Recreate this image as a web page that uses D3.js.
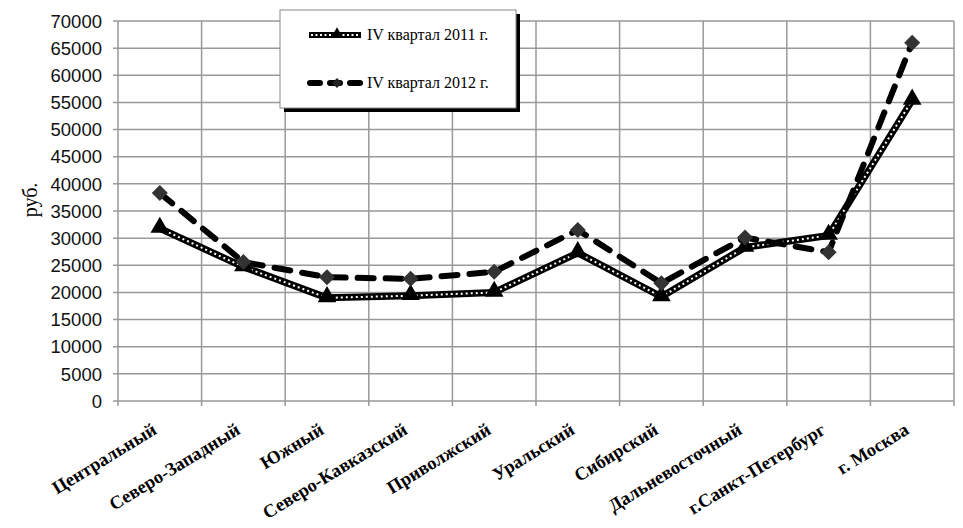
<!DOCTYPE html>
<html><head><meta charset="utf-8">
<script src="https://cdn.jsdelivr.net/npm/d3@7"></script>
<style>body{margin:0;background:#fff}svg{display:block}</style>
</head><body>
<svg id="c" width="963" height="528"></svg>
<script>
const categories = ["Центральный","Северо-Западный","Южный","Северо-Кавказский","Приволжский","Уральский","Сибирский","Дальневосточный","г.Санкт-Петербург","г. Москва"];
const series2011 = [31800,24700,19000,19400,20000,27300,19200,28300,30500,55400];
const series2012 = [38300,25600,22800,22500,23800,31500,21700,30100,27400,66000];
const seriesNames = ["IV квартал 2011 г.","IV квартал 2012 г."];
const yTicks = d3.range(0,70001,5000);
const yLabel = "руб.";

const SERIF = "'Liberation Serif'";
const SANS = "'Liberation Sans'";
const svg = d3.select("#c");
const L=118,R=954,T=21,B=401;
const x = d3.scaleBand().domain(categories).range([L,R]);
const y = d3.scaleLinear().domain([0,70000]).range([B,T]);
const cx = d => x(d)+x.bandwidth()/2;

// grid
const g = svg.append("g");
g.selectAll(".hg").data(yTicks).join("line")
 .attr("x1",L-5).attr("x2",R).attr("y1",d=>y(d)).attr("y2",d=>y(d))
 .attr("stroke","#999").attr("stroke-width",1.5);
const vb = categories.map(c=>x(c)).concat([R]);
g.selectAll(".vg").data(vb).join("line")
 .attr("x1",d=>d).attr("x2",d=>d).attr("y1",T).attr("y2",B+5)
 .attr("stroke","#999").attr("stroke-width",1.5);

// y labels
g.selectAll(".yl").data(yTicks).join("text")
 .attr("x",102).attr("y",d=>y(d)).attr("dy","0.36em")
 .attr("text-anchor","end").attr("font-family",SANS).attr("font-size",18.5)
 .attr("fill","#111").text(d=>d);
svg.append("text").attr("transform","translate(37,200) rotate(-90)")
 .attr("text-anchor","middle").attr("font-family",SERIF).attr("font-size",20)
 .text(yLabel);

// x labels
g.selectAll(".xl").data(categories).join("text")
 .attr("transform",d=>`translate(${cx(d)-2},${B+32}) rotate(-31.5)`)
 .attr("text-anchor","end").attr("font-family",SERIF).attr("font-weight","bold")
 .attr("font-size",18.5).attr("fill","#000").text(d=>d);

const line = d3.line().x((d,i)=>cx(categories[i])).y(d=>y(d));
const tri = d3.symbol().type(d3.symbolTriangle).size(150);
const dia = d3.symbol().type(d3.symbolSquare).size(128);

svg.append("path").attr("d",line(series2011)).attr("fill","none").attr("stroke","#000").attr("stroke-width",7).attr("stroke-linejoin","round");
svg.append("path").attr("d",line(series2011)).attr("fill","none").attr("stroke","#fff").attr("stroke-width",2).attr("stroke-dasharray","2,3");
svg.append("g").selectAll("path").data(series2011).join("path")
 .attr("d",tri).attr("transform",(d,i)=>`translate(${cx(categories[i])},${y(d)-1})`).attr("fill","#000");

svg.append("path").attr("d",line(series2012)).attr("fill","none").attr("stroke","#000").attr("stroke-width",6)
 .attr("stroke-dasharray","16,12").attr("stroke-linecap","round");
svg.append("g").selectAll("path").data(series2012).join("path")
 .attr("d",dia).attr("transform",(d,i)=>`translate(${cx(categories[i])},${y(d)}) rotate(45)`).attr("fill","#333");

// legend
const lg = svg.append("g");
lg.append("rect").attr("x",284).attr("y",14).attr("width",236).attr("height",98).attr("fill","#000");
lg.append("rect").attr("x",280).attr("y",10).attr("width",236).attr("height",98).attr("fill","#fff").attr("stroke","#888").attr("stroke-width",1);
lg.append("line").attr("x1",309).attr("x2",361).attr("y1",35).attr("y2",35).attr("stroke","#000").attr("stroke-width",6);
lg.append("line").attr("x1",311).attr("x2",359).attr("y1",35).attr("y2",35).attr("stroke","#fff").attr("stroke-width",2).attr("stroke-dasharray","2,2.5");
lg.append("path").attr("d",d3.symbol().type(d3.symbolTriangle).size(60)).attr("transform","translate(337,34)").attr("fill","#000");
lg.append("text").attr("x",367).attr("y",40).attr("font-family",SERIF).attr("font-size",16).text(seriesNames[0]);
lg.append("line").attr("x1",310).attr("x2",362).attr("y1",83).attr("y2",83).attr("stroke","#000").attr("stroke-width",6)
 .attr("stroke-dasharray","10,10").attr("stroke-linecap","round");
lg.append("path").attr("d",d3.symbol().type(d3.symbolSquare).size(50)).attr("transform","translate(337,83) rotate(45)").attr("fill","#222");
lg.append("text").attr("x",367).attr("y",88).attr("font-family",SERIF).attr("font-size",16).text(seriesNames[1]);
</script>
</body></html>
